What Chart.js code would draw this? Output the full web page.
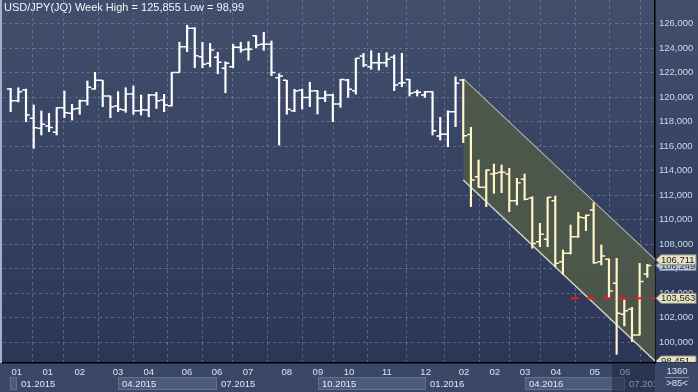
<!DOCTYPE html>
<html><head><meta charset="utf-8">
<script src="https://cdn.jsdelivr.net/npm/chart.js@4.4.0/dist/chart.umd.min.js"></script>
<style>html,body{margin:0;padding:0;background:#2f3a58;overflow:hidden}#wrap{width:698px;height:392px}</style>
</head><body><div id="wrap"><canvas id="c" width="698" height="392"></canvas></div>
<script>
const titleText = 'USD/JPY(JQ) Week High = 125,855 Low = 98,99';
const opens  = [120.65,119.70,120.57,118.26,117.44,117.63,117.12,119.13,118.67,119.07,119.70,120.65,121.36,120.08,119.27,118.94,120.24,118.88,118.94,120.16,119.76,119.29,122.01,124.11,125.61,123.29,122.75,123.24,122.34,122.47,124.06,123.89,125.01,124.30,124.30,121.58,121.36,118.88,120.55,119.97,120.52,119.89,120.16,119.43,121.39,120.52,123.35,122.47,122.80,122.80,123.24,121.12,121.44,120.38,120.16,120.44,116.82,116.96,118.80,121.39,116.95,113.50,112.63,113.71,113.85,113.71,111.54,113.28,111.76,108.19,108.38,111.54,106.56,107.24,108.60,110.15,110.78,106.56,106.75,104.79,102.26,102.67,100.57,105.55];
const highs  = [120.71,120.76,120.65,119.35,118.86,118.67,119.13,120.49,119.40,119.76,121.31,122.01,121.36,120.08,120.44,120.76,120.90,120.16,120.22,120.38,120.22,122.01,124.47,125.86,125.66,124.47,124.38,123.65,122.88,124.30,124.47,124.52,125.01,125.28,124.57,121.90,121.36,120.63,120.65,121.20,120.52,120.49,120.24,121.44,121.44,123.16,123.57,123.78,123.57,123.62,123.43,123.57,121.44,120.57,120.44,120.44,118.34,118.88,121.66,121.44,117.52,114.86,114.04,114.53,114.45,114.18,113.36,113.71,111.86,109.69,111.81,111.92,107.51,109.55,110.59,110.37,111.37,107.92,106.78,106.83,103.43,102.83,106.42,106.34];
const lows   = [118.80,119.60,117.99,115.81,116.90,117.17,116.90,118.31,118.12,118.59,119.35,120.65,119.21,118.31,118.80,118.75,118.59,118.53,118.39,119.07,118.80,119.27,122.01,123.70,122.39,122.39,122.47,121.90,120.35,122.39,123.65,123.00,124.03,123.81,121.74,116.08,118.59,118.80,119.02,119.21,118.61,119.62,117.99,119.16,119.97,120.24,122.47,122.26,122.20,122.47,120.52,120.84,120.08,120.08,119.97,116.90,116.49,115.95,117.58,116.27,111.05,112.63,111.05,112.14,112.19,110.64,111.18,111.59,107.65,107.78,107.78,106.15,105.52,107.18,108.54,109.09,106.42,106.29,103.56,98.99,101.31,100.03,100.57,105.28];
const closes = [119.70,120.44,118.53,117.50,117.77,117.52,119.13,118.72,119.02,119.70,120.79,121.36,120.08,119.21,119.00,120.24,118.88,118.96,120.16,119.70,119.35,122.01,124.11,125.61,123.37,122.67,123.84,122.83,122.75,124.06,123.84,123.89,124.24,124.30,122.01,121.71,119.00,120.49,119.97,120.49,119.89,120.16,119.43,121.44,120.63,123.16,122.61,122.80,122.80,123.08,120.98,121.17,120.30,120.38,120.44,117.25,116.96,118.80,121.12,116.84,113.22,112.63,114.04,113.77,113.85,111.54,113.01,111.65,108.05,108.79,111.81,106.42,107.24,108.60,110.18,110.34,106.48,107.02,104.16,102.34,102.56,100.57,104.93,106.25];
const firstChannelBar = 60;
const xTickPos    = [1.8,5.85,10,15,19,24,27.9,31.95,37,41.05,45.1,50.05,55.1,60.1,64.1,68.05,72.1,77.15,81.1];
const xTickLabels = ['01','01','02','03','04','06','06','07','08','09','10','11','12','02','02','03','04','05','06'];
const periodStarts = [0.9,1.8,15,27.9,41.05,55.1,68.05,81.1];
const periodLabels = ['','01.2015','04.2015','07.2015','10.2015','01.2016','04.2016','07.2016'];
const yTicks = [100,102,104,106,108,110,112,114,116,118,120,122,124,126];
const channelX = [60, 85];
const channelUpper = [121.47, 106.711];
const channelLower = [113.22, 98.451];
const supportX = [74, 85];
const supportLevel = 103.563;
const lastClose = 106.249;
const footerTop = '1360', footerBottom = '>85<';

const FONT = '"Liberation Sans", Arial, sans-serif';
const WHITE = '#ffffff', CREAM = '#fff6c6';
const fmt = v => v.toFixed(3).replace('.', ',');

const bgPlugin = {
  id: 'bgPlugin',
  beforeDraw(chart) {
    const {ctx, chartArea: a, scales: {x}} = chart;
    const W = chart.width, H = chart.height;
    ctx.save();
    const g = ctx.createLinearGradient(0, 0, 0, a.bottom);
    g.addColorStop(0, '#414e6c'); g.addColorStop(1, '#2b3656');
    ctx.fillStyle = g; ctx.fillRect(0, 0, W, a.bottom);
    ctx.fillStyle = '#3a4767'; ctx.fillRect(0, a.bottom, W, H - a.bottom);
    ctx.font = '9.5px ' + FONT; ctx.textBaseline = 'middle'; ctx.textAlign = 'left';
    ctx.beginPath(); ctx.rect(0, a.bottom, a.right, H - a.bottom); ctx.clip();
    for (let k = 0; k < periodStarts.length; k++) {
      const x0 = Math.round(x.getPixelForValue(periodStarts[k]));
      const x1 = k + 1 < periodStarts.length ? Math.round(x.getPixelForValue(periodStarts[k + 1])) : a.right;
      if (k % 2 === 0) {
        ctx.fillStyle = '#4c5a7a'; ctx.fillRect(x0, 377, x1 - x0, 13);
        ctx.strokeStyle = '#62708f'; ctx.lineWidth = 1; ctx.strokeRect(x0 + 0.5, 377.5, x1 - x0 - 1, 12);
      }
      ctx.fillStyle = '#dfe6f3';
      if (periodLabels[k]) ctx.fillText(periodLabels[k], x0 + 4, 384);
    }
    ctx.restore();
  }
};

const ohlcPlugin = {
  id: 'ohlcPlugin',
  afterDatasetsDraw(chart) {
    const {ctx, scales: {x, y}, chartArea: a} = chart;
    const tl = (x.getPixelForValue(1) - x.getPixelForValue(0)) * 0.5;
    ctx.save();
    ctx.beginPath(); ctx.rect(a.left, a.top, a.right - a.left, a.bottom - a.top); ctx.clip();
    ctx.lineWidth = 1.5;
    for (let i = 0; i < opens.length; i++) {
      const px = x.getPixelForValue(i + 1);
      ctx.strokeStyle = (i + 1 >= firstChannelBar) ? CREAM : WHITE;
      const yo = y.getPixelForValue(opens[i]), yc = y.getPixelForValue(closes[i]);
      ctx.beginPath();
      ctx.moveTo(px - tl, yo); ctx.lineTo(px, yo);
      ctx.moveTo(px, yc); ctx.lineTo(px + tl, yc);
      ctx.stroke();
    }
    ctx.restore();
  }
};

function drawTag(ctx, yPix, text, bg, fg, border) {
  const x0 = 656, h = 10;
  ctx.beginPath();
  ctx.moveTo(x0, yPix);
  ctx.lineTo(x0 + 5, yPix - h / 2);
  ctx.lineTo(696, yPix - h / 2);
  ctx.lineTo(696, yPix + h / 2);
  ctx.lineTo(x0 + 5, yPix + h / 2);
  ctx.closePath();
  ctx.fillStyle = bg; ctx.fill();
  ctx.strokeStyle = border; ctx.lineWidth = 1; ctx.stroke();
  ctx.fillStyle = fg; ctx.textAlign = 'left'; ctx.textBaseline = 'middle';
  ctx.fillText(text, x0 + 5, yPix + 0.5);
}

const overlayPlugin = {
  id: 'overlayPlugin',
  afterDraw(chart) {
    const {ctx, chartArea: a, scales: {y}} = chart;
    const W = chart.width, H = chart.height;
    ctx.save();
    ctx.font = '11px ' + FONT; ctx.fillStyle = '#f2f5fa';
    ctx.textAlign = 'left'; ctx.textBaseline = 'middle';
    ctx.fillText(titleText, 4, 8);
    ctx.fillStyle = '#9fb0c8'; ctx.fillRect(0, 0, 2, a.bottom);
    ctx.save();
    ctx.beginPath(); ctx.rect(a.right, 0, W - a.right, a.bottom - 1); ctx.clip();
    ctx.font = '9.5px ' + FONT;
    drawTag(ctx, y.getPixelForValue(lastClose), fmt(lastClose), '#b9c4d6', '#2d3752', '#7d889c');
    drawTag(ctx, y.getPixelForValue(channelUpper[1]), fmt(channelUpper[1]), '#e7e3c7', '#1e1e1e', '#8c8a78');
    drawTag(ctx, y.getPixelForValue(supportLevel), fmt(supportLevel), '#e7e3c7', '#1e1e1e', '#8c8a78');
    drawTag(ctx, y.getPixelForValue(channelLower[1]), fmt(channelLower[1]), '#e7e3c7', '#1e1e1e', '#8c8a78');
    ctx.restore();
    ctx.fillStyle = 'rgba(24,32,52,0.45)';
    ctx.fillRect(612, a.bottom + 1, a.right - 612, H - a.bottom - 1);
    ctx.font = '9.5px ' + FONT;
    ctx.fillStyle = '#dbe4f3'; ctx.textAlign = 'center'; ctx.textBaseline = 'middle';
    ctx.fillText(footerTop, 677, 371);
    ctx.fillText(footerBottom, 677, 383.5);
    ctx.strokeStyle = '#7f8eae'; ctx.lineWidth = 1;
    ctx.beginPath(); ctx.moveTo(665, 377.5); ctx.lineTo(689, 377.5); ctx.stroke();
    ctx.restore();
  }
};

const gridColor = 'rgba(125,140,172,0.55)';
const chart = new Chart(document.getElementById('c'), {
  type: 'bar',
  data: {
    datasets: [
      { type: 'line', data: channelX.map((v, i) => ({x: v, y: channelUpper[i]})),
        borderColor: '#d0d3c8', borderWidth: 1.5, pointRadius: 0, fill: false, order: 5 },
      { type: 'line', data: channelX.map((v, i) => ({x: v, y: channelLower[i]})),
        borderColor: '#d0d3c8', borderWidth: 1.5, pointRadius: 0, fill: '-1',
        backgroundColor: 'rgba(80,89,72,0.9)', order: 4 },
      { type: 'bar', data: opens.map((o, i) => ({x: i + 1, y: [lows[i], highs[i]]})),
        backgroundColor: opens.map((o, i) => (i + 1 >= firstChannelBar) ? CREAM : WHITE),
        borderWidth: 0, barThickness: 1.5, grouped: false, order: 2 },
      { type: 'line', data: supportX.map(v => ({x: v, y: supportLevel})),
        borderColor: '#ff1414', borderWidth: 2, borderDash: [8, 8], pointRadius: 0, fill: false, order: 1 }
    ]
  },
  options: {
    responsive: false, animation: false, devicePixelRatio: 1,
    layout: { padding: { left: 3, top: 0, right: 0, bottom: 0 } },
    plugins: { legend: { display: false }, tooltip: { enabled: false } },
    scales: {
      x: {
        type: 'linear', min: 0, max: 85, offset: false,
        afterBuildTicks: s => { s.ticks = xTickPos.map(v => ({value: v})); },
        afterFit: s => { s.height = 29; s.paddingLeft = 0; s.paddingRight = 0; },
        ticks: { callback: (v, i) => xTickLabels[i], autoSkip: false, maxRotation: 0, padding: 4,
                 color: '#dbe4f4', font: { size: 9.5, family: FONT } },
        grid: { color: gridColor, lineWidth: 1, drawTicks: false },
        border: { display: true, color: '#000000', width: 1.5, dash: [3, 3] }
      },
      y: {
        type: 'linear', position: 'right', min: 98.286, max: 127.92,
        afterBuildTicks: s => { s.ticks = yTicks.map(v => ({value: v})); },
        afterFit: s => { s.width = 43; s.paddingTop = 0; s.paddingBottom = 0; },
        ticks: { callback: v => fmt(v), padding: 4, color: '#cad8f0', font: { size: 9.5, family: FONT } },
        grid: { color: gridColor, lineWidth: 1, drawTicks: false },
        border: { display: true, color: '#000000', width: 1.5, dash: [3, 3] }
      }
    }
  },
  plugins: [bgPlugin, ohlcPlugin, overlayPlugin]
});
</script></body></html>
